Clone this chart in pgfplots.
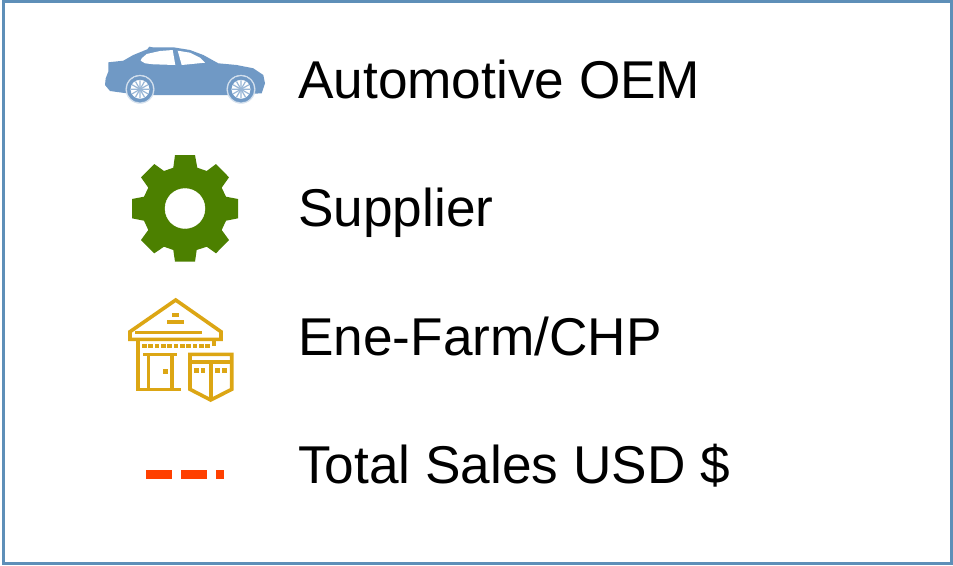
\documentclass[border=0pt]{standalone}
\usepackage{pgfplots}
\pgfplotsset{compat=1.18}
\usepackage{fontspec}
\setmainfont{Liberation Sans}

\definecolor{framec}{HTML}{5E8FB8}
\definecolor{carc}{HTML}{7099C5}
\definecolor{ringc}{HTML}{D5E1EE}
\definecolor{spokec}{HTML}{98B6D6}
\definecolor{gearc}{HTML}{4C8000}
\definecolor{housec}{HTML}{DCA614}
\definecolor{salesc}{HTML}{FF4000}

\tikzset{
    house/.style={draw=housec, line width=3.6pt, line join=miter},
    txt/.style={anchor=base west, inner sep=0pt, font=\fontsize{53.2}{60}\selectfont},
}

\begin{document}
\begin{tikzpicture}
\useasboundingbox (0,0) rectangle (953pt,565pt);
\begin{axis}[
    scale only axis, width=953pt, height=565pt,
    xmin=0, xmax=953, ymin=0, ymax=565,
    y dir=reverse, hide axis, clip=false,
    dots/.style={only marks, color=housec, mark=square*, mark size=1.75pt},
]
% frame
\addplot[draw=framec, fill=white, line width=2.8pt] coordinates {
    (3.5,1.5) (951.7,1.5) (951.7,563.7) (3.5,563.7)
} --cycle;

% car body
\addplot[fill=carc, draw=none] coordinates {
    (105,85) (105.7,78.3) (108.3,71.7) (108.3,62.3) (123.3,60.7) (133.3,55)
    (147.3,49.3) (149.3,46.7) (152.7,47.3) (173.3,47.3) (190,50) (203.3,55)
    (218.3,63.3) (236.7,65) (253.3,68.3) (263.3,75) (265,83.3) (261.7,93.3)
    (228.3,95) (153.3,95) (126.7,93.3) (110,91)
} --cycle;
% windows
\addplot[fill=white, draw=none] coordinates {
    (141.7,58.3) (146.7,54) (160,51) (172.7,50) (175.3,65) (153.3,64.3) (145,63.3) (140.7,60.7)
} --cycle;
\addplot[fill=white, draw=none] coordinates {
    (177.7,50.7) (190,52.7) (200,57.7) (205,62.7) (181.7,65)
} --cycle;
% wheels, all marks: pgfplots puts marks above the paths
\addplot[only marks, color=ringc, mark=*, mark size=14.2pt] coordinates {(140,89.3) (241,89.3)};
\addplot[only marks, color=carc, mark=*, mark size=12.9pt] coordinates {(140,89.3) (241,89.3)};
\addplot[only marks, color=white, mark=*, mark size=9.2pt] coordinates {(140,89.3) (241,89.3)};
\addplot[only marks, color=spokec, mark=asterisk, mark size=9pt, mark options={line width=1.2pt}] coordinates {(140,89.3) (241,89.3)};
\addplot[only marks, color=spokec, mark=asterisk, mark size=9pt, mark options={line width=1.2pt, rotate=30}] coordinates {(140,89.3) (241,89.3)};

% gear
\addplot[fill=gearc, draw=none] coordinates {
    (175,155) (195,155) (197.3,167.7) (206.7,171) (216,164) (229,177.3)
    (221.7,187.7) (226,196.7) (238,199) (238,218.3) (226,220.7) (221.7,230)
    (229,240) (216,253.3) (206.7,246.7) (196.7,250) (195,261.7) (175,261.7)
    (173.3,250) (164,246.7) (154.3,253.3) (141,240) (148.3,230) (144,220.7)
    (132,218.3) (132,199) (144,196.7) (148.3,187.7) (141,177.3) (154.3,164)
    (164,171) (173.3,167.7)
} --cycle;
\addplot[only marks, color=white, mark=*, mark size=20pt] coordinates {(185,208.5)};

% house
\addplot[house] coordinates {(175.7,300) (221,331.7) (221,339.3) (130,339.3) (130,331.7)} --cycle;
\addplot[house] coordinates {(135,332.3) (201.7,332.3)};
\addplot[house] coordinates {(172.3,315) (179,315)};
\addplot[house] coordinates {(167.3,322) (184,322)};
\addplot[house] coordinates {(137.7,339.3) (137.7,389.3) (180.7,389.3)};
\addplot[house] coordinates {(213.7,340) (213.7,345.7)};
\addplot[dots] coordinates {
    (144,345.7) (150.3,345.7) (156.7,345.7) (163,345.7) (169.3,345.7) (175.7,345.7)
    (182,345.7) (188.3,345.7) (194.7,345.7) (201,345.7) (207.3,345.7)
};
\addplot[house] coordinates {(143.3,354.3) (177.3,354.3)};
\addplot[house] coordinates {(148.3,354.3) (148.3,389.3)};
\addplot[house] coordinates {(171.7,354.3) (171.7,389.3)};
\addplot[dots] coordinates {(165,371.3)};
\addplot[house] coordinates {(190,354.3) (231.7,354.3) (231.7,389.3) (210.7,400) (190,389.3)} --cycle;
\addplot[house] coordinates {(190,362) (231.7,362)};
\addplot[house] coordinates {(210.7,362) (210.7,400)};
\addplot[dots] coordinates {(196,370) (202.7,370) (217.3,370) (224,370)};

% dashed sales line
\addplot[draw=salesc, line width=8.6pt, dash pattern=on 26.3pt off 8.7pt] coordinates {(146,474.5) (223.7,474.5)};

% legend texts
\node[txt] at (axis cs:298,98) {Automotive OEM};
\node[txt] at (axis cs:298,226) {Supplier};
\node[txt] at (axis cs:298,355) {Ene-Farm/CHP};
\node[txt] at (axis cs:298,483) {Total Sales USD \$};
\end{axis}
\end{tikzpicture}
\end{document}
